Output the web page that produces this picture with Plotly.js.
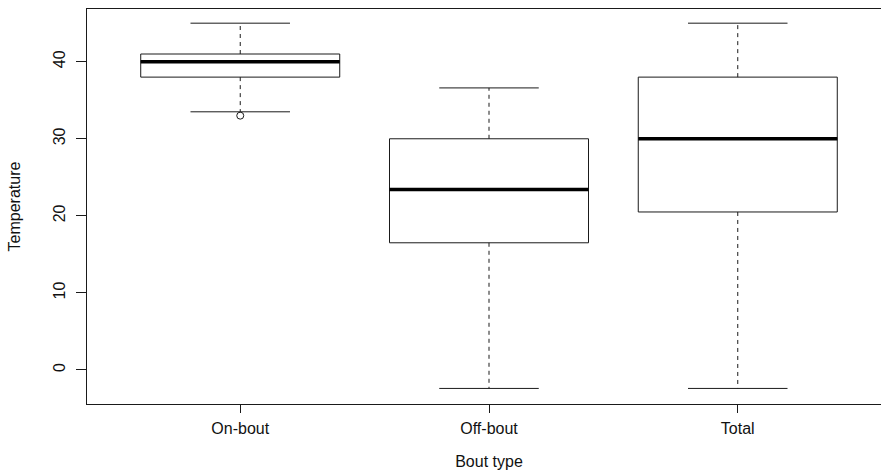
<!DOCTYPE html>
<html>
<head>
<meta charset="utf-8">
<script src="https://cdn.plot.ly/plotly-3.0.1.min.js"></script>
<style>
  html, body { margin: 0; padding: 0; overflow: hidden; background: #fff; }
  #chart { width: 895px; height: 470px; }
</style>
</head>
<body>
<div id="chart"></div>
<script>
// Temperature summary per bout type
const categories = ["On-bout", "Off-bout", "Total"];
const lowerWhisker = [33.5, -2.4, -2.4];
const q1 = [38, 16.5, 20.5];
const median = [40, 23.4, 30];
const q3 = [41, 30, 38];
const upperWhisker = [45, 36.6, 45];
const outlierCat = [0];      // index into categories
const outlierVal = [33];

const positions = categories.map((_, i) => i + 1);
const boxWidth = 0.8;
const capHalf = 0.2;
const ink = "#1a1a1a";

const traces = [];

// boxes (whiskers drawn separately so they can be dashed)
traces.push({
  type: "box",
  x: positions,
  q1: q1,
  median: median,
  q3: q3,
  lowerfence: q1,
  upperfence: q3,
  width: boxWidth,
  whiskerwidth: 0,
  fillcolor: "rgba(255,255,255,0)",
  line: { color: ink, width: 1 },
  boxpoints: false,
  hoverinfo: "skip",
  showlegend: false
});

// dashed whiskers and solid caps
positions.forEach((p, i) => {
  traces.push({
    type: "scatter", mode: "lines",
    x: [p, p, null, p, p],
    y: [q3[i], upperWhisker[i], null, q1[i], lowerWhisker[i]],
    line: { color: ink, width: 1, dash: "4px,4px" },
    hoverinfo: "skip", showlegend: false
  });
  traces.push({
    type: "scatter", mode: "lines",
    x: [p - capHalf, p + capHalf, null, p - capHalf, p + capHalf],
    y: [upperWhisker[i], upperWhisker[i], null, lowerWhisker[i], lowerWhisker[i]],
    line: { color: ink, width: 1 },
    hoverinfo: "skip", showlegend: false
  });
  // heavy median bar
  traces.push({
    type: "scatter", mode: "lines",
    x: [p - boxWidth / 2, p + boxWidth / 2],
    y: [median[i], median[i]],
    line: { color: "#000", width: 3.5 },
    hoverinfo: "skip", showlegend: false
  });
});

// outlying points
traces.push({
  type: "scatter", mode: "markers",
  x: outlierCat.map(i => positions[i]),
  y: outlierVal,
  marker: { symbol: "circle-open", size: 7, color: ink, line: { width: 1, color: ink } },
  hoverinfo: "skip", showlegend: false
});

const font = { family: "Liberation Sans, Arial, sans-serif", size: 16, color: "#111" };

const layout = {
  width: 895,
  height: 470,
  margin: { l: 87, r: 4, t: 9, b: 66 },
  paper_bgcolor: "#fff",
  plot_bgcolor: "#fff",
  font: font,
  showlegend: false,
  xaxis: {
    range: [0.384, 3.616],
    tickvals: positions,
    ticktext: categories,
    ticks: "outside",
    ticklen: 8,
    tickcolor: ink,
    ticklabelstandoff: 2,
    showgrid: false,
    zeroline: false,
    showline: true,
    linecolor: ink,
    linewidth: 1,
    mirror: true,
    tickfont: font,
    title: { text: "Bout type", font: font, standoff: 19 },
    automargin: false,
    fixedrange: true
  },
  yaxis: {
    range: [-4.42, 46.84],
    tickvals: [0, 10, 20, 30, 40],
    ticks: "outside",
    ticklen: 10,
    tickcolor: ink,
    tickangle: -90,
    ticklabelstandoff: 5,
    showgrid: false,
    zeroline: false,
    showline: true,
    linecolor: ink,
    linewidth: 1,
    mirror: true,
    tickfont: font,
    title: { text: "Temperature", font: font, standoff: 25 },
    automargin: false,
    fixedrange: true
  }
};

Plotly.newPlot("chart", traces, layout, { displayModeBar: false, staticPlot: true });
</script>
</body>
</html>
